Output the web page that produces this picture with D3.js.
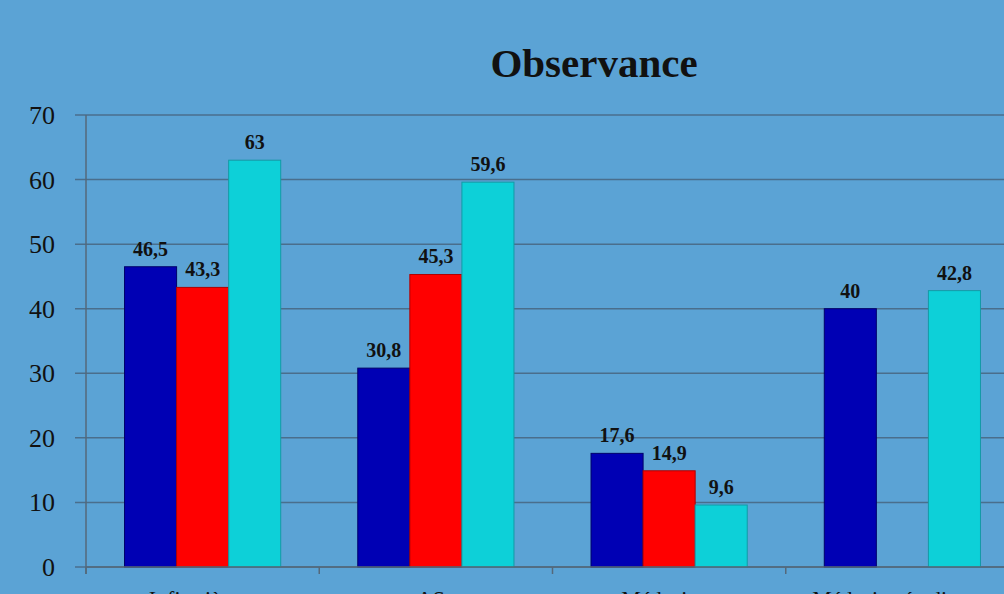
<!DOCTYPE html>
<html>
<head>
<meta charset="utf-8">
<script src="https://cdn.jsdelivr.net/npm/d3@7"></script>
<style>
  body { margin: 0; background: #5ba3d5; overflow: hidden; }
  text { font-family: "Book Antiqua", "Palatino Linotype", "Liberation Serif", serif; fill: #111; }
</style>
</head>
<body>
<div id="chart"></div>
<script>
// chart data
var categories = ["Infirmières", "AS", "Médecins", "Médecins étudiants"];
var seriesNames = ["s1", "s2", "s3"];
var serie1 = [46.5, 30.8, 17.6, 40];
var serie2 = [43.3, 45.3, 14.9, null];
var serie3 = [63, 59.6, 9.6, 42.8];
var yTicks = [0, 10, 20, 30, 40, 50, 60, 70];
var colors = ["#0000b4", "#ff0000", "#0dd0d8"];
var strokes = ["#00006a", "#b00000", "#139aa6"];

var width = 1004,
    height = 594;
var margin = {top: 115, left: 86, bottom: 27};
var plotRight = 1019;

var svg = d3.select("#chart").append("svg")
    .attr("width", width)
    .attr("height", height);

var x = d3.scaleBand()
    .domain(categories)
    .range([margin.left, plotRight]);

var xInner = d3.scaleBand()
    .domain(seriesNames)
    .range([0, x.bandwidth()])
    .paddingOuter(0.74)
    .paddingInner(0);

var y = d3.scaleLinear()
    .domain([0, 70])
    .range([height - margin.bottom, margin.top]);

// gridlines
svg.append("g")
  .selectAll("line")
  .data(yTicks)
  .enter()
  .append("line")
    .attr("x1", margin.left - 11)
    .attr("x2", width)
    .attr("y1", function(d) { return y(d); })
    .attr("y2", function(d) { return y(d); })
    .attr("stroke", "#4a6e8c")
    .attr("stroke-width", 1.5);

// y axis labels
svg.append("g")
  .selectAll("text")
  .data(yTicks)
  .enter()
  .append("text")
    .attr("x", 55)
    .attr("y", function(d) { return y(d) + 9; })
    .attr("text-anchor", "end")
    .style("font-size", "26px")
    .text(function(d) { return d; });

// y axis line
svg.append("line")
    .attr("x1", margin.left).attr("x2", margin.left)
    .attr("y1", y(70)).attr("y2", y(0) + 7)
    .attr("stroke", "#55687a")
    .attr("stroke-width", 1.5);

// bars
var table = categories.map(function(c, i) {
  return {cat: c, values: [serie1[i], serie2[i], serie3[i]]};
});

var groups = svg.append("g")
  .selectAll("g")
  .data(table)
  .enter()
  .append("g")
    .attr("transform", function(d) { return "translate(" + x(d.cat) + ",0)"; });

var bars = groups.selectAll("g")
  .data(function(d) {
    return d.values.map(function(v, j) { return {key: seriesNames[j], idx: j, value: v}; })
      .filter(function(e) { return e.value != null; });
  })
  .enter()
  .append("g");

bars.append("rect")
    .attr("x", function(d) { return xInner(d.key); })
    .attr("y", function(d) { return y(d.value); })
    .attr("width", xInner.bandwidth())
    .attr("height", function(d) { return y(0) - y(d.value); })
    .attr("fill", function(d) { return colors[d.idx]; })
    .attr("stroke", function(d) { return strokes[d.idx]; })
    .attr("stroke-width", 1);

bars.append("text")
    .attr("x", function(d) { return xInner(d.key) + xInner.bandwidth() / 2; })
    .attr("y", function(d) { return y(d.value) - 11; })
    .attr("text-anchor", "middle")
    .style("font-size", "20px")
    .style("font-weight", "bold")
    .text(function(d) { return String(d.value).replace(".", ","); });

// x axis
svg.append("line")
    .attr("x1", margin.left).attr("x2", width)
    .attr("y1", y(0)).attr("y2", y(0))
    .attr("stroke", "#55687a")
    .attr("stroke-width", 1.5);

svg.append("g")
  .selectAll("line")
  .data(categories)
  .enter()
  .append("line")
    .attr("x1", function(d) { return x(d); })
    .attr("x2", function(d) { return x(d); })
    .attr("y1", y(0))
    .attr("y2", y(0) + 7)
    .attr("stroke", "#55687a")
    .attr("stroke-width", 1.5);

svg.append("g")
  .selectAll("text")
  .data(categories)
  .enter()
  .append("text")
    .attr("x", function(d) { return x(d) + x.bandwidth() / 2 - 5; })
    .attr("y", 606)
    .attr("text-anchor", "middle")
    .style("font-size", "22px")
    .text(function(d) { return d; });

// title
svg.append("text")
    .attr("x", 594)
    .attr("y", 77)
    .attr("text-anchor", "middle")
    .style("font-size", "41px")
    .style("font-weight", "bold")
    .text("Observance");
</script>
</body>
</html>
